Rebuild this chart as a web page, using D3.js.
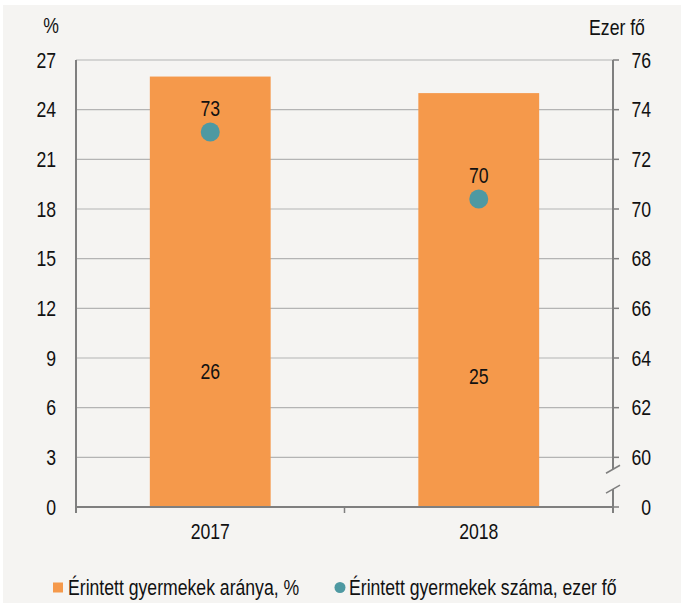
<!DOCTYPE html>
<html>
<head>
<meta charset="utf-8">
<script src="https://cdn.jsdelivr.net/npm/d3@7"></script>
<style>
  html, body { margin: 0; padding: 0; background: #ffffff; }
  text { font-family: "Liberation Sans Narrow", "Arial Narrow", "Liberation Sans", Arial, sans-serif; fill: #111; }
</style>
</head>
<body>
<div id="chart"></div>
<script>
// data
var years = ["2017", "2018"];
var shareValues = [26, 25];          // Érintett gyermekek aránya, %
var countValues = [73.1, 70.4];      // Érintett gyermekek száma, ezer fő
var countLabels = ["73", "70"];
var leftTicks = [0, 3, 6, 9, 12, 15, 18, 21, 24, 27];
var rightTicks = [60, 62, 64, 66, 68, 70, 72, 74, 76];

var W = 681, H = 603;
var plot = {left: 76, right: 613, top: 60, bottom: 507};
var FS = 21.5, SX = 0.82;   // narrow look: scale Liberation Sans horizontally

var svg = d3.select("#chart").append("svg")
  .attr("width", W).attr("height", H);

svg.append("rect").attr("x", 3).attr("y", 5).attr("width", W - 3).attr("height", H - 5)
  .style("fill", "#f5f4f2");

// narrow text helper
function label(px, py, str, anchor) {
  return svg.append("text")
    .attr("transform", "translate(" + px + "," + py + ") scale(" + SX + ",1)")
    .attr("text-anchor", anchor || "middle").attr("dominant-baseline", "central")
    .attr("font-size", FS).text(str);
}

var x = d3.scaleBand().domain(years).range([plot.left, plot.right]).paddingInner(0.55).paddingOuter(0.275);
var yL = d3.scaleLinear().domain([0, 27]).range([plot.bottom, plot.top]);
// right axis has a break: 0 at the bottom, 60..76 above the first step
var step = (plot.bottom - plot.top) / 9;
var yR = d3.scaleLinear().domain([60, 76]).range([plot.bottom - step, plot.top]);

// gridlines
svg.append("g").selectAll("line").data(leftTicks.slice(1)).enter().append("line")
  .attr("x1", plot.left).attr("x2", plot.right)
  .attr("y1", function(d){ return yL(d); }).attr("y2", function(d){ return yL(d); })
  .style("stroke", "#b4b4b4").style("stroke-width", 1.2);

// bars
svg.append("g").selectAll("rect").data(shareValues).enter().append("rect")
  .attr("x", function(d, i){ return x(years[i]); })
  .attr("width", x.bandwidth())
  .attr("y", function(d){ return yL(d); })
  .attr("height", function(d){ return yL(0) - yL(d); })
  .style("fill", "#f5994b");

shareValues.forEach(function(d, i){
  label(x(years[i]) + x.bandwidth() / 2, yL(d) + (yL(0) - yL(d)) * 0.685, d);
});

// axes
var axisCol = "#7f7f7f";
svg.append("line").attr("x1", plot.left).attr("x2", plot.left)
  .attr("y1", plot.top).attr("y2", plot.bottom + 6).style("stroke", axisCol).style("stroke-width", 2);
svg.append("line").attr("x1", plot.left - 1).attr("x2", plot.right + 1)
  .attr("y1", plot.bottom).attr("y2", plot.bottom).style("stroke", axisCol).style("stroke-width", 2);
[plot.left, (plot.left + plot.right) / 2, plot.right].forEach(function(px){
  svg.append("line").attr("x1", px).attr("x2", px).attr("y1", plot.bottom).attr("y2", plot.bottom + 6)
    .style("stroke", axisCol).style("stroke-width", 1.5);
});

// right axis with break
var br1 = plot.bottom - step * 0.72, br2 = plot.bottom - step * 0.4;
svg.append("line").attr("x1", plot.right).attr("x2", plot.right)
  .attr("y1", plot.top).attr("y2", plot.bottom + 6).style("stroke", axisCol).style("stroke-width", 2);
svg.append("polygon")
  .attr("points", [[plot.right - 7, br1 + 2], [plot.right + 7, br1 - 6], [plot.right + 7, br2 - 2], [plot.right - 7, br2 + 6]].join(" "))
  .style("fill", "#f5f4f2");
[br1, br2].forEach(function(b, i){
  var off = i === 0 ? 2 : 6;
  svg.append("line").attr("x1", plot.right - 7).attr("x2", plot.right + 7)
    .attr("y1", b + off).attr("y2", b + off - 8).style("stroke", axisCol).style("stroke-width", 1.5);
});
rightTicks.concat([0]).forEach(function(t){
  var py = t === 0 ? plot.bottom : yR(t);
  svg.append("line").attr("x1", plot.right).attr("x2", plot.right + 6).attr("y1", py).attr("y2", py)
    .style("stroke", axisCol).style("stroke-width", 1.5);
});

// tick labels
leftTicks.forEach(function(t){ label(56, yL(t), t, "end"); });
rightTicks.forEach(function(t){ label(651, yR(t), t, "end"); });
label(651, plot.bottom, 0, "end");
years.forEach(function(d){ label(x(d) + x.bandwidth() / 2, 531, d); });

label(51, 25, "%");
label(617, 27, "Ezer fő");

// points
svg.append("g").selectAll("circle").data(countValues).enter().append("circle")
  .attr("cx", function(d, i){ return x(years[i]) + x.bandwidth() / 2; })
  .attr("cy", function(d){ return yR(d); })
  .attr("r", 9.5).style("fill", "#4e99a2");
countValues.forEach(function(d, i){
  label(x(years[i]) + x.bandwidth() / 2, yR(d) - 24, countLabels[i]);
});

// legend
var ly = 587.5;
svg.append("rect").attr("x", 53).attr("y", ly - 5).attr("width", 10).attr("height", 10).style("fill", "#f5994b");
label(68, ly, "Érintett gyermekek aránya, %", "start");
svg.append("circle").attr("cx", 340).attr("cy", ly).attr("r", 5.5).style("fill", "#4e99a2");
label(349, ly, "Érintett gyermekek száma, ezer fő", "start");
</script>
</body>
</html>
